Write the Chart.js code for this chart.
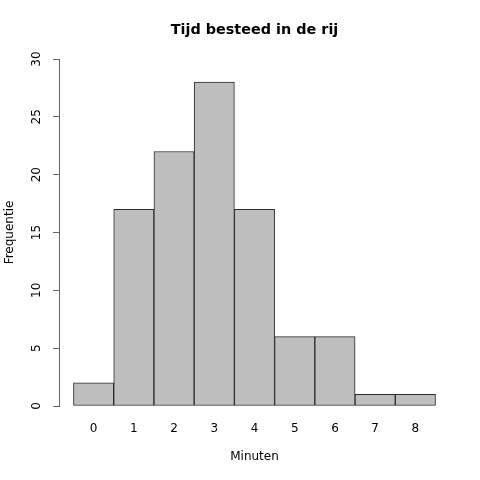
<!DOCTYPE html>
<html>
<head>
<meta charset="utf-8">
<script src="https://cdn.jsdelivr.net/npm/chart.js@4.4.1/dist/chart.umd.min.js"></script>
<style>
    html, body { margin: 0; padding: 0; background: #fff; }
    #wrap { width: 480px; height: 480px; }
</style>
</head>
<body>
<div id="wrap"><canvas id="chartHist"></canvas></div>
<script>
const minutes = [0, 1, 2, 3, 4, 5, 6, 7, 8];
const frequencies = [2, 17, 22, 28, 17, 6, 6, 1, 1];
const yTicks = [0, 5, 10, 15, 20, 25, 30];
const chartTitle = "Tijd besteed in de rij";

const fontFamily = "'DejaVu Sans', sans-serif";

// Title centred over the plot area, like R's main title
const plotTitle = {
    id: "plotTitle",
    afterDraw(chart) {
        const {ctx, chartArea} = chart;
        ctx.save();
        ctx.font = "bold 14.4px " + fontFamily;
        ctx.fillStyle = "#000";
        ctx.textAlign = "center";
        ctx.textBaseline = "middle";
        ctx.fillText(chartTitle, (chartArea.left + chartArea.right) / 2, 30);
        ctx.restore();
    }
};

const ctxHist = document.getElementById('chartHist').getContext('2d');
new Chart(ctxHist, {
    type: "bar",
    data: {
        datasets: [
            {
                label: "Frequentie",
                data: minutes.map((m, i) => ({x: m, y: frequencies[i]})),
                backgroundColor: "#bebebe",
                borderColor: "#2a2a2a",
                borderWidth: 1,
                borderSkipped: false,
                barPercentage: 1,
                categoryPercentage: 1,
            }
        ]
    },
    plugins: [plotTitle],
    options: {
        responsive: true,
        maintainAspectRatio: false,
        animation: false,
        layout: {
            padding: {left: 0, right: 30, top: 59, bottom: 0},
        },
        plugins: {
            legend: {display: false},
            tooltip: {enabled: false},
            title: {display: false},
        },
        scales: {
            x: {
                type: "linear",
                offset: false,
                min: -0.86,
                max: 8.86,
                grid: {display: false},
                border: {display: false},
                afterBuildTicks: (scale) => {
                    scale.ticks = minutes.map((v) => ({value: v}));
                },
                afterFit: (scale) => {
                    scale.height = 74;
                },
                ticks: {
                    color: "#000",
                    font: {family: fontFamily, size: 12},
                    padding: 8,
                    maxRotation: 0,
                    autoSkip: false,
                },
                title: {
                    display: true,
                    text: "Minuten",
                    color: "#000",
                    font: {family: fontFamily, size: 12},
                    padding: {top: 0, bottom: 16},
                },
            },
            y: {
                min: 0,
                max: 30,
                afterBuildTicks: (scale) => {
                    scale.ticks = yTicks.map((v) => ({value: v}));
                },
                afterFit: (scale) => {
                    scale.width = 59;
                },
                grid: {
                    display: true,
                    drawOnChartArea: false,
                    drawTicks: true,
                    tickLength: 6,
                    color: "#666",
                },
                border: {display: true, color: "#666", width: 1},
                ticks: {
                    color: "#000",
                    font: {family: fontFamily, size: 12},
                    minRotation: 90,
                    maxRotation: 90,
                    crossAlign: "center",
                    padding: 8,
                },
                title: {
                    display: true,
                    text: "Frequentie",
                    color: "#000",
                    font: {family: fontFamily, size: 12},
                    padding: {top: 3, bottom: 0},
                },
            },
        },
    },
});
</script>
</body>
</html>
